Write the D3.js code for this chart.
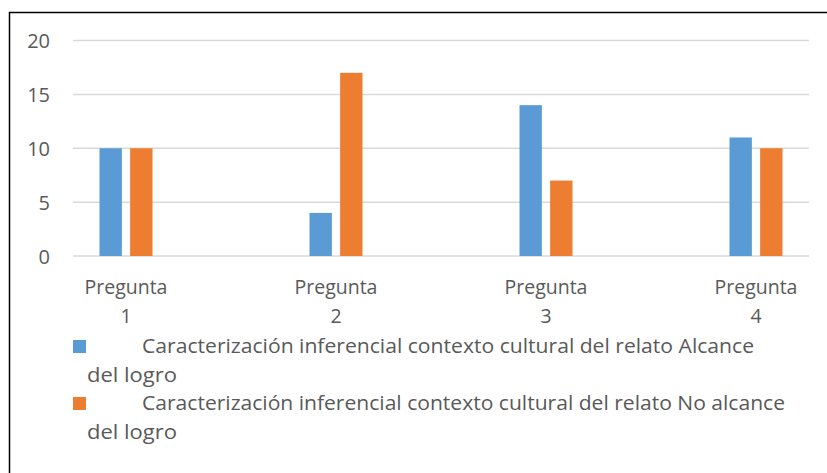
<!DOCTYPE html>
<html><head><meta charset="utf-8">
<script src="https://cdn.jsdelivr.net/npm/d3@7"></script>
<style>body{margin:0;background:#fff}svg{display:block}text{font-family:"Open Sans",sans-serif;fill:#595959}</style>
</head><body><svg id="c" width="827" height="473"></svg>
<script>
const categories = ["Pregunta 1","Pregunta 2","Pregunta 3","Pregunta 4"];
const seriesNames = ["Caracterización inferencial contexto cultural del relato Alcance del logro",
                     "Caracterización inferencial contexto cultural del relato No alcance del logro"];
const alcance = [10, 4, 14, 11];
const noAlcance = [10, 17, 7, 10];
const yTicks = [0, 5, 10, 15, 20];
const colors = ["#5B9BD5", "#ED7D31"];

const svg = d3.select("#c");
svg.append("path").attr("d","M9.5,473 L9.5,12.5 L827,12.5").attr("fill","none").attr("stroke","#000").attr("stroke-width",1.5);

const y = d3.scaleLinear().domain([0,20]).range([256,40.5]);
const x = d3.scaleBand().domain(categories).range([21,861]);
const sub = d3.scaleBand().domain([0,1]).range([-26.5,26.5]).paddingInner(0.27);

svg.append("g").selectAll("line").data(yTicks).join("line")
  .attr("x1",73).attr("x2",809).attr("y1",d=>y(d)).attr("y2",d=>y(d))
  .attr("stroke","#D9D9D9").attr("stroke-width",1.5);
svg.append("g").selectAll("text").data(yTicks).join("text")
  .attr("x",50).attr("y",d=>y(d)+7.5).attr("text-anchor","end").attr("font-size",20).text(d=>d);

const data = [alcance, noAlcance];
data.forEach((vals,si)=>{
  svg.append("g").selectAll("rect").data(vals).join("rect")
    .attr("x",(d,i)=>x(categories[i])+x.bandwidth()/2+sub(si))
    .attr("width",sub.bandwidth())
    .attr("y",d=>y(d)).attr("height",d=>y(0)-y(d))
    .attr("fill",colors[si]);
});

categories.forEach(c=>{
  const parts = c.split(" ");
  const cx = x(c)+x.bandwidth()/2;
  const t = svg.append("text").attr("x",cx).attr("text-anchor","middle").attr("font-size",19.5);
  t.append("tspan").attr("x",cx).attr("y",294).text(parts[0]);
  t.append("tspan").attr("x",cx).attr("y",323).text(parts[1]);
});

const legY = [340, 397];
const legW = [612, 643];
seriesNames.forEach((name,i)=>{
  svg.append("rect").attr("x",73).attr("y",legY[i]).attr("width",13).attr("height",13).attr("fill",colors[i]);
  const cut = name.lastIndexOf(" del logro");
  const l1 = name.slice(0,cut), l2 = name.slice(cut+1);
  svg.append("text").attr("x",142).attr("y",legY[i]+13).attr("font-size",19.5)
    .attr("textLength",legW[i]).attr("lengthAdjust","spacingAndGlyphs").text(l1);
  svg.append("text").attr("x",87).attr("y",legY[i]+42).attr("font-size",19.5)
    .attr("textLength",90).attr("lengthAdjust","spacingAndGlyphs").text(l2);
});
</script></body></html>
